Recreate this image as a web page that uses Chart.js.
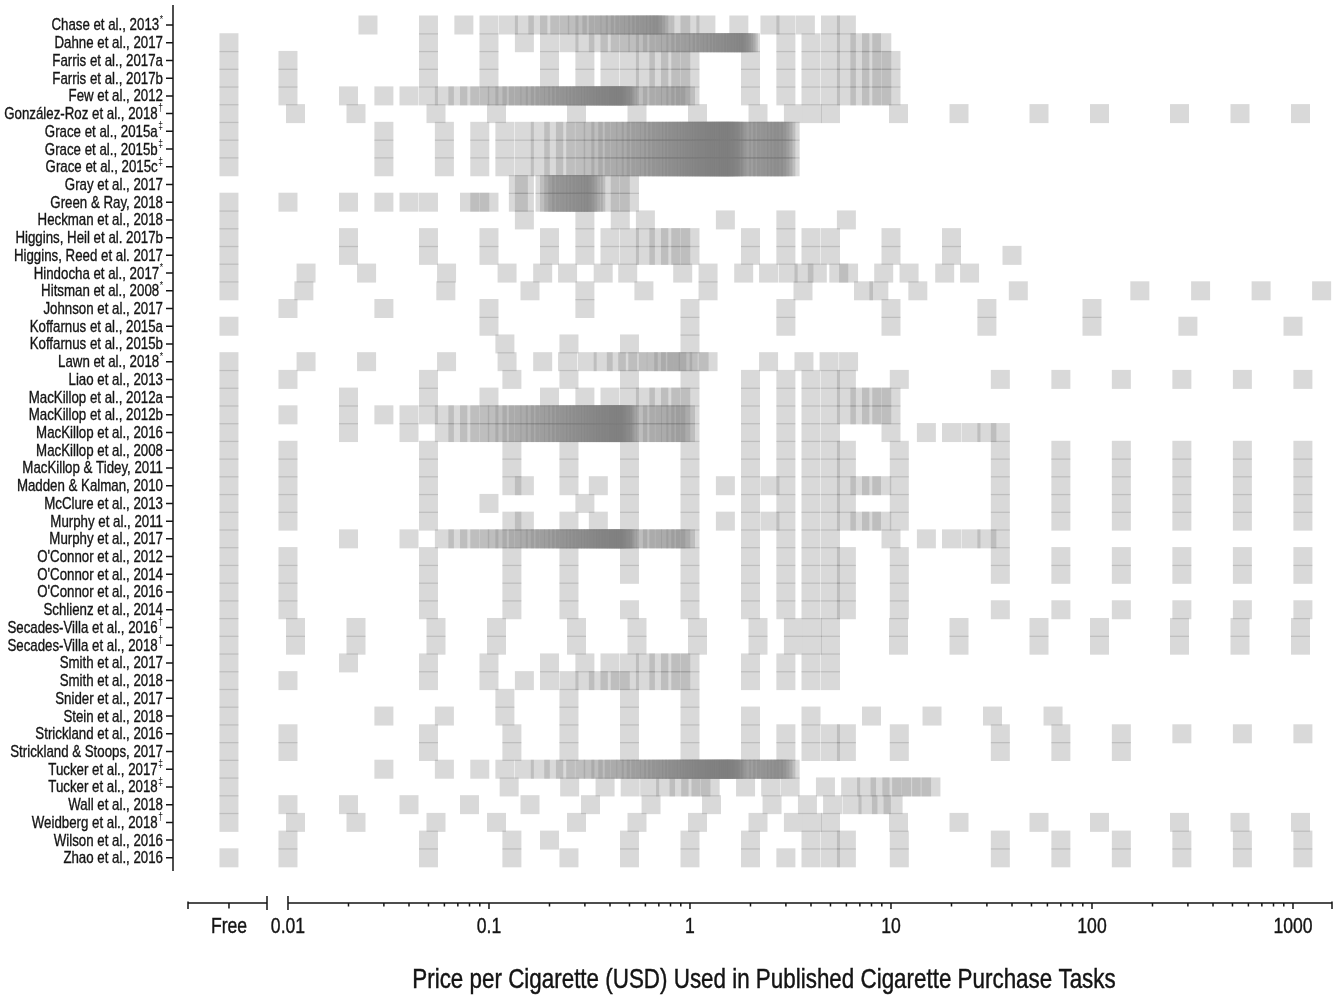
<!DOCTYPE html>
<html>
<head>
<meta charset="utf-8">
<script src="https://cdn.jsdelivr.net/npm/chart.js@4.4.1/dist/chart.umd.min.js"></script>
<style>
  html, body { margin: 0; padding: 0; background: #fff; }
  canvas { display: block; }
</style>
</head>
<body>
<canvas id="chart" width="1341" height="998"></canvas>
<script>
// studies (top to bottom) and their footnote marks
const studies = [
  'Chase et al., 2013', 'Dahne et al., 2017', 'Farris et al., 2017a', 'Farris et al., 2017b',
  'Few et al., 2012', 'González-Roz et al., 2018', 'Grace et al., 2015a', 'Grace et al., 2015b',
  'Grace et al., 2015c', 'Gray et al., 2017', 'Green & Ray, 2018', 'Heckman et al., 2018',
  'Higgins, Heil et al. 2017b', 'Higgins, Reed et al. 2017', 'Hindocha et al., 2017', 'Hitsman et al., 2008',
  'Johnson et al., 2017', 'Koffarnus et al., 2015a', 'Koffarnus et al., 2015b', 'Lawn et al., 2018',
  'Liao et al., 2013', 'MacKillop et al., 2012a', 'MacKillop et al., 2012b', 'MacKillop et al., 2016',
  'MacKillop et al., 2008', 'MacKillop & Tidey, 2011', 'Madden & Kalman, 2010', 'McClure et al., 2013',
  'Murphy et al., 2011', 'Murphy et al., 2017', "O'Connor et al., 2012", "O'Connor et al., 2014",
  "O'Connor et al., 2016", 'Schlienz et al., 2014', 'Secades-Villa et al., 2016', 'Secades-Villa et al., 2018',
  'Smith et al., 2017', 'Smith et al., 2018', 'Snider et al., 2017', 'Stein et al., 2018',
  'Strickland et al., 2016', 'Strickland & Stoops, 2017', 'Tucker et al., 2017', 'Tucker et al., 2018',
  'Wall et al., 2018', 'Weidberg et al., 2018', 'Wilson et al., 2016', 'Zhao et al., 2016'
];
const marks = [
  '*', '', '', '', '', '†', '‡', '‡', '‡', '', '', '', '', '', '*', '*',
  '', '', '', '*', '', '', '', '', '', '', '', '', '', '', '', '',
  '', '', '†', '†', '', '', '', '', '', '', '‡', '‡', '', '†', '', ''
];

// prices per cigarette in USD (0 = Free)
const standardCPT = [0, 0.01, 0.05, 0.13, 0.25, 0.5, 1, 2, 3, 4, 5, 6, 11, 35, 70, 140, 280, 560, 1120];
const chase2013 = [0.025, 0.05, 0.075, 0.1, 0.125, 0.15, 0.175, 0.2, 0.225, 0.25, 0.275, 0.3, 0.325, 0.35,
  0.375, 0.4, 0.425, 0.45, 0.475, 0.5, 0.525, 0.55, 0.575, 0.6, 0.625, 0.65, 0.675, 0.7, 0.725, 0.75,
  0.9, 1, 1.2, 1.75, 2.5, 3, 3.75, 5, 6];
const dahne2017 = [0, 0.05, 0.1, 0.15, 0.2, 0.25, 0.3, 0.35, 0.4, 0.45, 0.5, 0.55, 0.6, 0.65, 0.7, 0.75,
  0.8, 0.85, 0.9, 0.95, 1, 1.05, 1.1, 1.15, 1.2, 1.25, 1.3, 1.35, 1.4, 1.45, 1.5, 1.55, 1.6, 1.65, 1.7,
  1.75, 1.8, 1.85, 1.9, 1.95, 2, 3, 4, 5, 6, 7, 8, 9];
const farris2017 = [0, 0.01, 0.05, 0.1, 0.2, 0.3, 0.4, 0.5, 0.6, 0.7, 0.8, 0.9, 1, 2, 3, 4, 5, 6, 7, 8, 9, 10];
const few2012 = [0, 0.01, 0.02, 0.03, 0.04, 0.05, 0.06, 0.07, 0.08, 0.09, 0.1, 0.11, 0.12, 0.13, 0.14,
  0.15, 0.16, 0.17, 0.18, 0.19, 0.2, 0.21, 0.22, 0.23, 0.24, 0.25, 0.26, 0.27, 0.28, 0.29, 0.3, 0.31, 0.32,
  0.33, 0.34, 0.35, 0.36, 0.37, 0.38, 0.39, 0.4, 0.41, 0.42, 0.43, 0.44, 0.45, 0.46, 0.47, 0.48, 0.49, 0.5,
  0.55, 0.6, 0.65, 0.7, 0.75, 0.8, 0.85, 0.9, 0.95, 1, 2, 3, 4, 5, 6, 7, 8, 9, 10];
const spainPrices = [0, 0.0109, 0.0218, 0.0545, 0.109, 0.2725, 0.545, 1.09, 2.18, 3.27, 4.06, 5, 10.9,
  21.8, 54.5, 109, 272.5, 545, 1090];
const nzPrices = [0, 0.03, 0.06, 0.09, 0.12, 0.15, 0.18, 0.21, 0.24, 0.27, 0.3, 0.33, 0.36, 0.39, 0.42,
  0.45, 0.48, 0.51, 0.54, 0.57, 0.6, 0.63, 0.66, 0.69, 0.72, 0.75, 0.78, 0.81, 0.84, 0.87, 0.9, 0.93, 0.96,
  0.99, 1.02, 1.05, 1.08, 1.11, 1.14, 1.17, 1.2, 1.23, 1.26, 1.29, 1.32, 1.35, 1.38, 1.41, 1.44, 1.47, 1.5,
  1.53, 1.56, 1.59, 1.62, 1.65, 1.68, 1.71, 1.8, 1.9, 2, 2.1, 2.2, 2.3, 2.4, 2.5, 2.6, 2.7, 2.8, 2.9, 3, 3.15];
const gray2017 = [0.14, 0.15, 0.19, 0.2, 0.21, 0.22, 0.23, 0.24, 0.25, 0.26, 0.27, 0.28, 0.29, 0.3, 0.31,
  0.32, 0.33, 0.34, 0.4, 0.45, 0.5];
const greenRay2018 = [0, 0.01, 0.02, 0.03, 0.04, 0.05, 0.08, 0.09, 0.1, 0.14, 0.15, 0.19, 0.2, 0.21, 0.22,
  0.23, 0.24, 0.25, 0.26, 0.27, 0.28, 0.29, 0.3, 0.31, 0.32, 0.33, 0.34, 0.4, 0.45, 0.5];
const heckman2018 = [0, 0.15, 0.3, 0.45, 0.6, 1.5, 3, 6];
const higginsHeil2017 = [0, 0.02, 0.05, 0.1, 0.2, 0.3, 0.4, 0.5, 0.6, 0.7, 0.8, 0.9, 1, 2, 3, 4, 5, 10, 20];
const higginsReed2017 = [0, 0.02, 0.05, 0.1, 0.2, 0.3, 0.4, 0.5, 0.6, 0.7, 0.8, 0.9, 1, 2, 3, 4, 5, 10, 20, 40];
const hindocha2017 = [0, 0.0123, 0.0246, 0.0615, 0.123, 0.185, 0.246, 0.37, 0.49, 0.92, 1.23, 1.85, 2.46,
  3.08, 3.69, 4.3, 5.5, 6.15, 9.2, 12.3, 18.5, 24.6];
const hitsman2008 = [0, 0.012, 0.061, 0.16, 0.3, 0.59, 1.23, 3.65, 7.3, 8.7, 13.6, 43, 173, 347, 694, 1388];
const johnson2017 = [0.01, 0.03, 0.1, 0.3, 1, 3, 10, 30, 100];
const koffarnus2015a = [0, 0.1, 1, 3, 10, 30, 100, 300, 1000];
const koffarnus2015b = [0.12, 0.25, 0.5, 1];
const lawn2018 = [0, 0.0123, 0.0246, 0.0615, 0.123, 0.185, 0.246, 0.308, 0.37, 0.43, 0.49, 0.55, 0.62,
  0.68, 0.74, 0.8, 0.86, 0.92, 0.98, 1.11, 1.23, 2.46, 3.69, 4.92, 6.15];
const mackillop2012a = [0, 0.02, 0.05, 0.1, 0.2, 0.3, 0.4, 0.5, 0.6, 0.7, 0.8, 0.9, 1, 2, 3, 4, 5, 6, 7, 8, 9, 10];
const mackillop2016 = [0, 0.02, 0.04, 0.06, 0.07, 0.08, 0.09, 0.1, 0.11, 0.12, 0.13, 0.14, 0.15, 0.16,
  0.17, 0.18, 0.19, 0.2, 0.21, 0.22, 0.23, 0.24, 0.25, 0.26, 0.27, 0.28, 0.29, 0.3, 0.31, 0.32, 0.33, 0.34,
  0.35, 0.36, 0.37, 0.38, 0.39, 0.4, 0.41, 0.42, 0.43, 0.44, 0.45, 0.46, 0.47, 0.48, 0.49, 0.5, 0.55, 0.6,
  0.65, 0.7, 0.75, 0.8, 0.85, 0.9, 0.95, 1, 2, 3, 4, 5, 10, 15, 20, 25, 30, 35];
const madden2010 = [0, 0.01, 0.05, 0.13, 0.15, 0.25, 0.35, 0.5, 1, 1.5, 2, 2.5, 3, 4, 5, 6, 7, 8, 9, 11,
  35, 70, 140, 280, 560, 1120];
const mcclure2013 = [0, 0.01, 0.05, 0.1, 0.3, 0.5, 1, 2, 3, 4, 5, 6, 11, 35, 70, 140, 280, 560, 1120];
const oconnor2016 = [0, 0.01, 0.05, 0.13, 0.25, 1, 2, 3, 4, 5, 6, 11];
const smith2017 = [0, 0.02, 0.05, 0.1, 0.2, 0.3, 0.4, 0.5, 0.6, 0.7, 0.8, 0.9, 1, 2, 3, 4, 5];
const smith2018 = [0, 0.01, 0.05, 0.1, 0.15, 0.2, 0.25, 0.3, 0.35, 0.4, 0.45, 0.5, 0.6, 0.7, 0.8, 0.9, 1,
  2, 3, 4, 5];
const snider2017 = [0, 0.12, 0.25, 0.5, 1];
const stein2018 = [0, 0.03, 0.06, 0.12, 0.25, 0.5, 1, 2, 4, 8, 16, 32, 64];
const stricklandStoops2017 = [0, 0.01, 0.05, 0.13, 0.25, 0.5, 1, 2, 3, 4, 5, 6, 11, 35, 70, 140];
const tucker2018 = [0, 0.126, 0.252, 0.378, 0.504, 0.63, 0.756, 0.882, 1.008, 1.134, 1.26, 1.89, 2.52,
  3.15, 4.72, 6.3, 7.56, 8.82, 10.1, 11.3, 12.6, 14.2, 15.8];
const wall2018 = [0, 0.01, 0.02, 0.04, 0.08, 0.16, 0.32, 0.64, 1.28, 2.56, 3.84, 5.12, 6.4, 7.68, 8.96, 10.24];
const wilson2016 = [0.01, 0.05, 0.13, 0.2, 0.5, 1, 2, 4, 5, 6, 11, 35, 70, 140, 280, 560, 1120];

// one price list per study, same order as studies
const rows = [
  chase2013, dahne2017, farris2017, farris2017, few2012, spainPrices, nzPrices, nzPrices,
  nzPrices, gray2017, greenRay2018, heckman2018, higginsHeil2017, higginsReed2017, hindocha2017, hitsman2008,
  johnson2017, koffarnus2015a, koffarnus2015b, lawn2018, standardCPT, mackillop2012a, few2012, mackillop2016,
  standardCPT, standardCPT, madden2010, mcclure2013, madden2010, mackillop2016, standardCPT, standardCPT,
  oconnor2016, standardCPT, spainPrices, spainPrices, smith2017, smith2018, snider2017, stein2018,
  standardCPT, stricklandStoops2017, nzPrices, tucker2018, wall2018, spainPrices, wilson2016, standardCPT
];

// x axis ticks
const tickValues = [0.005087, 0.01, 0.1, 1, 10, 100, 1000];
const tickLabels = ['Free', '0.01', '0.1', '1', '10', '100', '1000'];
const FREE_POS = 0.005087;   // where "Free" sits on the log axis
const axisTitle = 'Price per Cigarette (USD) Used in Published Cigarette Purchase Tasks';

// no narrow face installed: squeeze Liberation Sans sideways instead
const FONT = "'Liberation Sans', Arial, sans-serif";
const INK = '#141414';

const points = [];
rows.forEach((prices, i) => {
  prices.forEach((p) => points.push({ x: p === 0 ? FREE_POS : p, y: i }));
});

function narrowText(ctx, text, x, y, align, squeeze, weight) {
  ctx.save();
  ctx.translate(x, y);
  ctx.scale(squeeze, 1);
  ctx.textAlign = align;
  ctx.fillText(text, 0, 0);
  if (weight) {
    ctx.lineWidth = weight;
    ctx.strokeText(text, 0, 0);
  }
  ctx.restore();
}

//軸線、刻度、標籤
const axesPlugin = {
  id: 'axesPlugin',
  afterDraw(chart) {
    const ctx = chart.ctx;
    const xs = chart.scales.x;
    const ys = chart.scales.y;
    const area = chart.chartArea;
    const axisY = area.bottom;
    ctx.save();
    ctx.strokeStyle = INK;
    ctx.lineWidth = 1.5;
    ctx.beginPath();
    // y axis
    ctx.moveTo(area.left, area.top);
    ctx.lineTo(area.left, 871);
    studies.forEach((s, i) => {
      const py = ys.getPixelForValue(i);
      ctx.moveTo(area.left - 7, py);
      ctx.lineTo(area.left, py);
    });
    // x axis, broken between Free and 0.01
    const x001 = xs.getPixelForValue(0.01);
    ctx.moveTo(188, axisY); ctx.lineTo(267, axisY);
    ctx.moveTo(x001, axisY); ctx.lineTo(area.right, axisY);
    ctx.moveTo(188, axisY - 1.5); ctx.lineTo(188, axisY + 6);
    ctx.moveTo(267, axisY - 7); ctx.lineTo(267, axisY + 7);
    ctx.moveTo(x001, axisY - 7); ctx.lineTo(x001, axisY + 7);
    ctx.moveTo(area.right, axisY - 1.5); ctx.lineTo(area.right, axisY + 6);
    const xf = xs.getPixelForValue(FREE_POS);
    ctx.moveTo(xf, axisY); ctx.lineTo(xf, axisY + 5.5);
    for (let d = 0.01; d <= 1000; d *= 10) {
      for (let k = 1; k <= 9; k++) {
        const v = d * k;
        if (v > xs.max) break;
        const px = xs.getPixelForValue(v);
        ctx.moveTo(px, axisY);
        ctx.lineTo(px, axisY + (k === 1 ? 6 : 3.5));
      }
    }
    ctx.stroke();

    ctx.fillStyle = INK;
    ctx.strokeStyle = INK;
    ctx.textBaseline = 'middle';

    // x tick labels
    ctx.font = '22px ' + FONT;
    tickValues.forEach((v, i) => {
      narrowText(ctx, tickLabels[i], xs.getPixelForValue(v), 927, 'center', 0.8, 0.4);
    });

    // study labels, with raised footnote marks
    studies.forEach((s, i) => {
      const py = ys.getPixelForValue(i);
      let right = 163;
      if (marks[i]) {
        ctx.font = '10.5px ' + FONT;
        narrowText(ctx, marks[i], right, py - 5, 'right', 0.82, 0);
        right -= ctx.measureText(marks[i]).width * 0.82 + 0.5;
      }
      ctx.font = '16.2px ' + FONT;
      narrowText(ctx, s, right, py + 1, 'right', 0.82, 0.35);
    });

    ctx.font = '28px ' + FONT;
    narrowText(ctx, axisTitle, 764, 980, 'center', 0.8, 0.45);
    ctx.restore();
  }
};

const ctx = document.getElementById('chart').getContext('2d');
const chart = new Chart(ctx, {
  type: 'scatter',
  data: {
    datasets: [{
      data: points,
      pointStyle: 'rect',
      pointRadius: 13.43,
      pointHoverRadius: 13.43,
      backgroundColor: 'rgba(125,125,125,0.29)',
      borderWidth: 0,
      clip: false
    }]
  },
  options: {
    responsive: false,
    animation: false,
    devicePixelRatio: 1,
    events: [],
    layout: { autoPadding: false, padding: { left: 173, right: 9, top: 5, bottom: 0 } },
    plugins: { legend: { display: false }, tooltip: { enabled: false } },
    scales: {
      x: {
        type: 'logarithmic',
        bounds: 'data',
        min: 0.002679,
        max: 1563.4,
        afterBuildTicks: (scale) => { scale.ticks = tickValues.map((v) => ({ value: v })); },
        afterFit: (scale) => { scale.height = 95; },
        grid: { display: false },
        border: { display: false },
        ticks: { display: false }
      },
      y: { type: 'linear', display: false, reverse: true, min: -1.129, max: 49.55 }
    }
  },
  plugins: [axesPlugin]
});
</script>
</body>
</html>
